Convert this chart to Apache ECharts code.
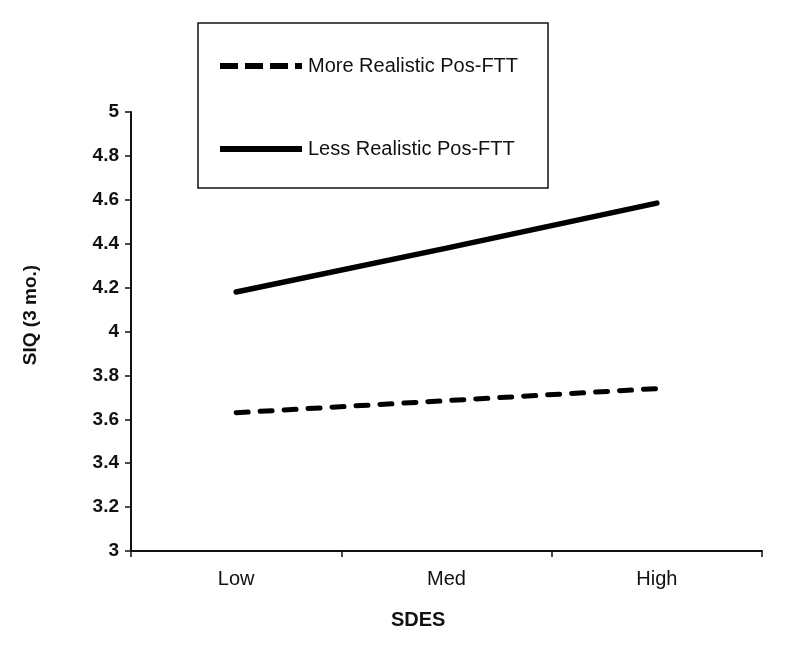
<!DOCTYPE html>
<html>
<head>
<meta charset="utf-8">
<script src="https://cdn.jsdelivr.net/npm/echarts@6/dist/echarts.min.js"></script>
<style>
  html, body { margin: 0; padding: 0; background: #fff; }
  #chart { width: 787px; height: 656px; }
</style>
</head>
<body>
<div id="chart"></div>
<script>
// SDES levels on the x axis
const categories = ['Low', 'Med', 'High'];
// SIQ (3 mo.) simple slopes
const moreRealistic = [3.63, 3.685, 3.74];
const lessRealistic = [4.18, 4.38, 4.585];
const seriesNames = ['More Realistic Pos-FTT', 'Less Realistic Pos-FTT'];

const FONT = '"Liberation Sans", Arial, sans-serif';

// legend swatches drawn as filled paths so they keep the thick dashed / solid look
const dashIcon = 'path://M0,0h18v6h-18z M25,0h18v6h-18z M50,0h18v6h-18z M75,0h7v6h-7z';
const solidIcon = 'path://M0,0h82v6h-82z';

const chart = echarts.init(document.getElementById('chart'));

const option = {
  backgroundColor: '#fff',
  animation: false,
  grid: { left: 131, right: 25, top: 112, bottom: 105 },
  legend: {
    orient: 'vertical',
    left: 198,
    top: 23,
    padding: [33, 30, 29, 22],
    itemGap: 63,
    itemWidth: 82,
    itemHeight: 6,
    borderColor: '#111',
    borderWidth: 1.5,
    backgroundColor: '#fff',
    textStyle: { fontFamily: FONT, fontSize: 20, color: '#111', padding: [0, 0, 0, 1] },
    data: [
      { name: seriesNames[0], icon: dashIcon, itemStyle: { color: '#000' } },
      { name: seriesNames[1], icon: solidIcon, itemStyle: { color: '#000' } }
    ]
  },
  xAxis: {
    type: 'category',
    data: categories,
    boundaryGap: true,
    axisLine: { lineStyle: { color: '#111', width: 2 } },
    axisTick: { show: true, length: 6, lineStyle: { color: '#111', width: 1.5 } },
    axisLabel: { fontFamily: FONT, fontSize: 20, color: '#111', margin: 18 }
  },
  yAxis: {
    type: 'value',
    min: 3,
    max: 5,
    interval: 0.2,
    splitLine: { show: false },
    axisLine: { show: true, lineStyle: { color: '#111', width: 2 } },
    axisTick: { show: true, length: 6, lineStyle: { color: '#111', width: 1.5 } },
    axisLabel: { fontFamily: FONT, fontSize: 19, fontWeight: 'bold', color: '#111', margin: 12 }
  },
  graphic: [
    {
      type: 'text',
      left: 391,
      top: 610,
      style: { text: 'SDES', font: 'bold 20px ' + FONT, fill: '#111' }
    },
    {
      type: 'text',
      x: 31,
      y: 315,
      rotation: Math.PI / 2,
      style: { text: 'SIQ (3 mo.)', font: 'bold 19px ' + FONT, fill: '#111', align: 'center', verticalAlign: 'middle' }
    }
  ],
  series: [
    {
      name: seriesNames[0],
      type: 'line',
      data: moreRealistic,
      symbol: 'none',
      lineStyle: { color: '#000', width: 5, type: [12, 12], cap: 'round' },
      itemStyle: { color: '#000' }
    },
    {
      name: seriesNames[1],
      type: 'line',
      data: lessRealistic,
      symbol: 'none',
      lineStyle: { color: '#000', width: 5.5, cap: 'round' },
      itemStyle: { color: '#000' }
    }
  ]
};

chart.setOption(option);
</script>
</body>
</html>
